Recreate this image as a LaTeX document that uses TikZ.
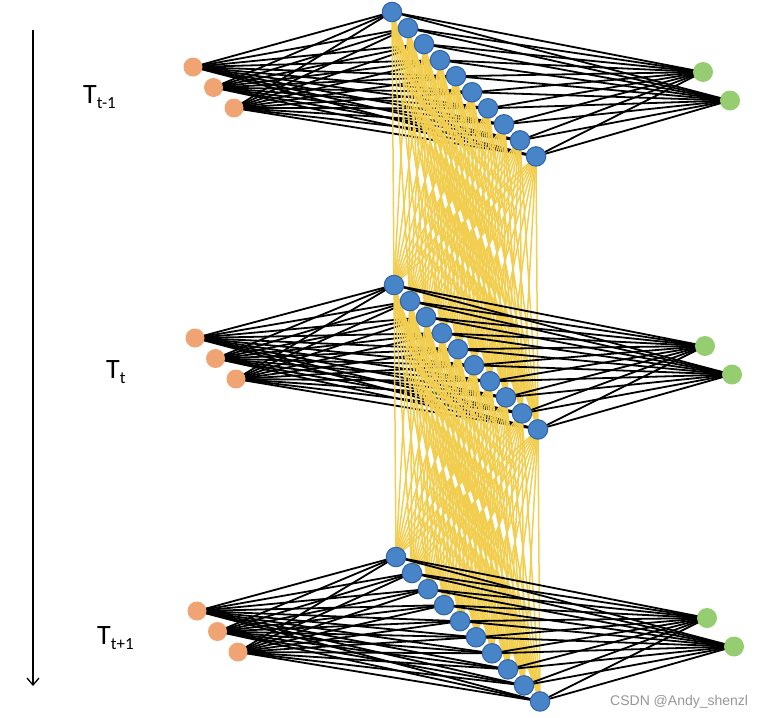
\documentclass[tikz,border=0pt]{standalone}
\usepackage{fontspec}
\setmainfont{Carlito}
\newfontfamily\wmfont{Liberation Sans}
\usetikzlibrary{arrows.meta}
\definecolor{orangenode}{RGB}{240,164,116}
\definecolor{bluenode}{RGB}{72,132,200}
\definecolor{blueborder}{RGB}{50,100,165}
\definecolor{greennode}{RGB}{150,205,112}
\definecolor{yellowline}{RGB}{242,206,80}
\definecolor{wmgray}{RGB}{150,150,150}
\pgfdeclarelayer{bg}
\pgfsetlayers{bg,main}
\newcommand{\subtxt}[1]{\raisebox{-5pt}{\fontsize{17}{17}\selectfont #1}}
\begin{document}
\begin{tikzpicture}[x=1pt,y=-1pt,
 inp/.style={circle,fill=orangenode,minimum size=19pt,inner sep=0pt},
 hid/.style={circle,fill=bluenode,draw=blueborder,line width=1pt,minimum size=19.5pt,inner sep=0pt},
 outp/.style={circle,fill=greennode,minimum size=20pt,inner sep=0pt},
 wire/.style={black,line width=1.8pt},
 rec/.style={yellowline,line width=1.5pt},
 lab/.style={font=\fontsize{28}{28}\selectfont,anchor=base west,inner sep=0pt}
]
\useasboundingbox (0,0) rectangle (777,718);
% nodes
\foreach \L/\ax/\ay/\bx/\by/\gx/\gy in {1/193/67/392/12/703/72, 2/195/338/394/285/705/346, 3/197/611/396/557/707/618}{
  \foreach \k in {1,2,3}{
    \node[inp] (i\L-\k) at ({\ax+20.5*(\k-1)},{\ay+20.5*(\k-1)}) {};
  }
  \foreach \k in {1,...,10}{
    \node[hid] (h\L-\k) at ({\bx+16*(\k-1)},{\by+16.05*(\k-1)}) {};
  }
  \node[outp] (o\L-1) at (\gx,\gy) {};
  \node[outp] (o\L-2) at ({\gx+27},{\gy+28.5}) {};
}
% connectors
\begin{pgfonlayer}{bg}
\foreach \L in {1,2,3}{
  \foreach \a in {1,2,3}{
    \foreach \b in {1,...,10}{
      \draw[wire] (i\L-\a.center) -- (h\L-\b.center);
    }
  }
  \foreach \b in {1,...,10}{
    \foreach \c in {1,2}{
      \draw[wire] (h\L-\b.center) -- (o\L-\c.center);
    }
  }
  \ifnum\L<3
    \pgfmathtruncatemacro\N{\L+1}
    \foreach \b in {1,...,10}{
      \foreach \c in {1,...,10}{
        \draw[rec] (h\L-\b.center) -- (h\N-\c.center);
      }
    }
  \fi
}
\end{pgfonlayer}
% time arrow
\coordinate (atop) at (33,30);
\coordinate (abot) at (33,686);
\draw[line width=1.3pt,-{Straight Barb[length=7pt,width=12pt]}] (atop) -- (abot);
% labels
\node[lab] (l1) at (83,103) {T\subtxt{t-1}};
\node[lab] (l2) at (106,378) {T\subtxt{t}};
\node[lab] (l3) at (97,644) {T\subtxt{t+1}};
\node[font=\wmfont\fontsize{14}{14}\selectfont,text=wmgray,anchor=base west,inner sep=0pt] (wm) at (610,705) {CSDN @Andy\_shenzl};
\end{tikzpicture}
\end{document}
